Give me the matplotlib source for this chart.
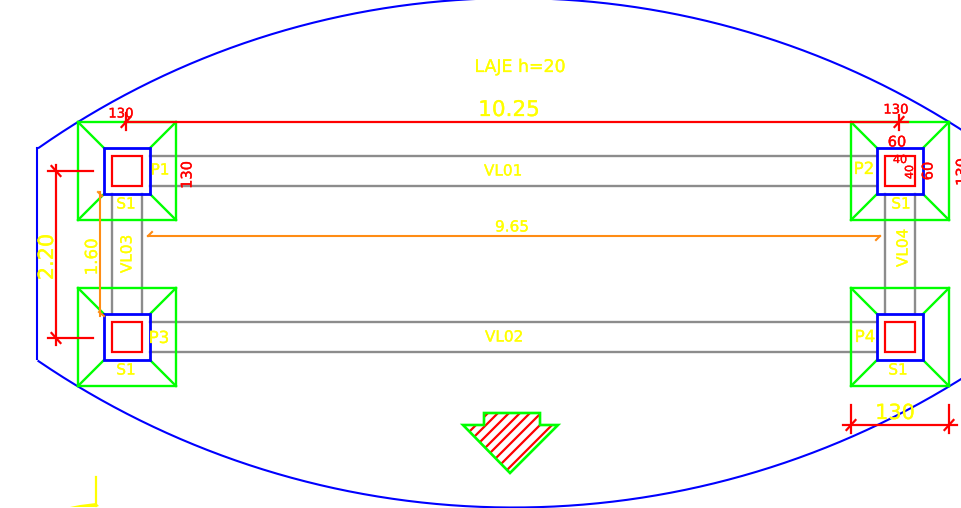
import numpy as np
import matplotlib
matplotlib.use("Agg")
import matplotlib.pyplot as plt
import matplotlib.patheffects as pe
from matplotlib.patches import Polygon, Rectangle

# drawing is in screen pixels, origin top left
BLUE = "#0000ff"
RED = "#ff0000"
GREEN = "#00ff00"
YELLOW = "#ffff00"
GRAY = "#8c8c8c"
ORANGE = "#ff8c14"

# pillars: centre x, centre y
pillar_x = [127, 900, 127, 900]
pillar_y = [171, 171, 337, 337]
footing_half = 49
collar_half = 23
column_half = 15

# beams
beam_h_rows = [(156, 186), (322, 352)]
beam_h_span = (150, 877)
beam_v_cols = [(112, 142), (885, 915)]
beam_v_span = (194, 314)

# slab outline arcs: centre y, radius, bulge direction
arc_center_x = 513.5
slab_arcs = [(825.7, 827.6, -1), (-336.5, 844.0, 1)]
slab_left_x = 37
slab_left_y = (148, 359)

# section arrow
arrow_x = [463, 484, 484, 540, 540, 558, 510]
arrow_y = [425, 425, 413, 413, 425, 425, 473]
hatch_offsets = [901, 911, 922, 933, 943, 954, 965, 977]

# labels: text, x, y, size, rotation
yellow_labels = [
    ("LAJE h=20", 520, 67, 12.5, 0),
    ("10.25", 509, 110, 15.5, 0),
    ("VL01", 503, 171, 11, 0),
    ("VL02", 504, 337, 11, 0),
    ("VL03", 127, 254, 11, 90),
    ("VL04", 903, 248, 11, 90),
    ("9.65", 512, 227, 11, 0),
    ("1.60", 92, 257, 12, 90),
    ("2.20", 47, 257, 15, 90),
    ("P1", 160, 170, 11, 0),
    ("P2", 864, 169, 12, 0),
    ("P3", 159, 338, 12, 0),
    ("P4", 865, 337, 12, 0),
    ("S1", 126, 204, 11, 0),
    ("S1", 901, 204, 11, 0),
    ("S1", 126, 370, 11, 0),
    ("S1", 898, 370, 11, 0),
    ("130", 895, 413, 15, 0),
]
red_labels = [
    ("130", 121, 114, 9.5, 0),
    ("130", 896, 110, 9.5, 0),
    ("130", 187, 175, 10.5, 90),
    ("60", 897, 142, 10.5, 0),
    ("40", 900, 160, 8, 0),
    ("40", 910, 172, 8, 90),
    ("60", 928, 171, 10.5, 90),
    ("130", 962, 172, 10.5, 90),
]

# dimension lines: x pair, y pair
red_dim_lines = [
    ((125, 908), (122, 122)),
    ((126, 126), (113, 130)),
    ((899, 899), (115, 130)),
    ((56, 56), (165, 345)),
    ((48, 93), (171, 171)),
    ((48, 93), (338, 338)),
    ((843, 957), (425, 425)),
    ((851, 851), (405, 433)),
    ((949, 949), (405, 433)),
]
# tick slashes: x, y, direction (1 rises to the right, -1 falls)
red_ticks = [(126, 122, 1), (899, 122, 1), (56, 171, -1), (56, 338, -1), (851, 425, 1), (949, 425, 1)]
orange_lines = [
    ((100, 100), (192, 316)),
    ((148, 880), (236, 236)),
    ((98, 102), (192, 196)),
    ((99, 104), (312, 316)),
    ((148, 152), (236, 232)),
    ((880, 876), (236, 240)),
]

fig = plt.figure(figsize=(9.61, 5.08), dpi=100)
ax = fig.add_axes([0, 0, 1, 1])
ax.set_xlim(0, 961)
ax.set_ylim(508, 0)
ax.axis("off")

# slab outline
for cy, r, bulge in slab_arcs:
    t = np.radians(np.linspace(-90, 90, 721))
    x_arc = arc_center_x + r * np.sin(t)
    y_arc = cy + bulge * r * np.cos(t)
    keep = x_arc >= slab_left_x
    ax.plot(x_arc[keep], y_arc[keep], color=BLUE, lw=1.5, zorder=3)
ax.plot([slab_left_x, slab_left_x], slab_left_y, color=BLUE, lw=1.5, zorder=3)

# beams
for y0, y1 in beam_h_rows:
    for y in (y0, y1):
        ax.plot(beam_h_span, (y, y), color=GRAY, lw=1.7, zorder=2)
for x0, x1 in beam_v_cols:
    for x in (x0, x1):
        ax.plot((x, x), beam_v_span, color=GRAY, lw=1.7, zorder=2)

# footings, collars, columns
for px, py in zip(pillar_x, pillar_y):
    ax.add_patch(Rectangle((px - footing_half, py - footing_half), 2 * footing_half, 2 * footing_half,
                           fill=False, ec=GREEN, lw=1.7, zorder=4))
    for sx in (-1, 1):
        for sy in (-1, 1):
            ax.plot((px + sx * footing_half, px + sx * collar_half),
                    (py + sy * footing_half, py + sy * collar_half), color=GREEN, lw=1.7, zorder=4)
    ax.add_patch(Rectangle((px - collar_half, py - collar_half), 2 * collar_half, 2 * collar_half,
                           fill=False, ec=BLUE, lw=2, zorder=5))
    ax.add_patch(Rectangle((px - column_half, py - column_half), 2 * column_half, 2 * column_half,
                           fill=False, ec=RED, lw=1.6, zorder=5))

# dimensions
for xs, ys in red_dim_lines:
    ax.plot(xs, ys, color=RED, lw=1.6, zorder=6)
for tx, ty, d in red_ticks:
    ax.plot((tx - 4.5, tx + 4.5), (ty + d * 5, ty - d * 5), color=RED, lw=1.6, zorder=6)
for xs, ys in orange_lines:
    ax.plot(xs, ys, color=ORANGE, lw=1.5, zorder=6)

# section arrow with hatch lines clipped to it
arrow = Polygon(np.column_stack([arrow_x, arrow_y]), closed=True, fill=False, ec=GREEN, lw=1.9, zorder=4)
ax.add_patch(arrow)
for c in hatch_offsets:
    line, = ax.plot((440, 580), (c - 440, c - 580), color=RED, lw=1.6, zorder=3)
    line.set_clip_path(arrow)

# yellow mark at the bottom left
ax.plot((96, 96), (477, 506), color=YELLOW, lw=1.6)
ax.add_patch(Polygon([(70, 507), (80, 505), (96, 503), (99, 506), (96, 507)], closed=True, fc=YELLOW, ec="none"))

for txt, x, y, size, rot in yellow_labels:
    t = ax.text(x, y, txt, color=YELLOW, fontsize=size, rotation=rot, ha="center", va="center", zorder=7)
    t.set_path_effects([pe.withStroke(linewidth=0.2, foreground=YELLOW)])
for txt, x, y, size, rot in red_labels:
    t = ax.text(x, y, txt, color=RED, fontsize=size, rotation=rot, ha="center", va="center", zorder=7)
    t.set_path_effects([pe.withStroke(linewidth=0.25, foreground=RED)])

fig.savefig("out.png", dpi=100)
